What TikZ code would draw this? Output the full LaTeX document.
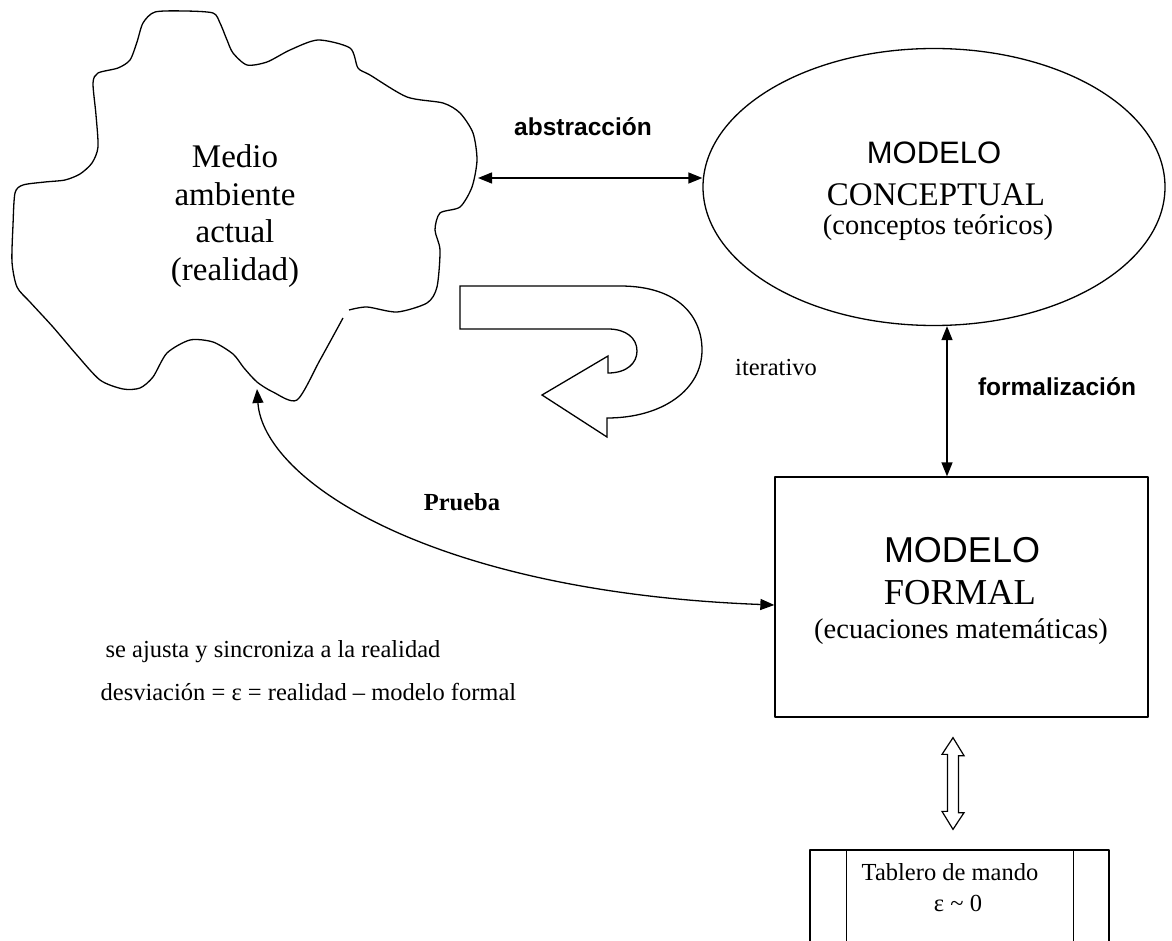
\documentclass[tikz,border=0pt]{standalone}
\usepackage{fontspec}
\setmainfont{Liberation Serif}
\setsansfont{Liberation Sans}
\usetikzlibrary{shapes.geometric,arrows.meta,calc}

\begin{document}
\begin{tikzpicture}[x=1pt,y=-1pt,
  line width=1.3pt, line join=round,
  tipboth/.style={{Triangle[length=14pt,width=11pt]}-{Triangle[length=14pt,width=11pt]}},
  cloudtext/.style={font=\fontsize{33}{37.5}\selectfont, align=center},
  headsans/.style={font=\sffamily\fontsize{31}{36}\selectfont},
  headserif/.style={font=\fontsize{33}{38}\selectfont},
  subserif/.style={font=\fontsize{28.5}{33}\selectfont},
  labelbold/.style={font=\sffamily\bfseries\fontsize{24.5}{28}\selectfont},
  plain/.style={font=\fontsize{24.5}{28}\selectfont},
]
\useasboundingbox (0,0) rectangle (1172,941);
\clip (0,0) rectangle (1172,941);

% the real environment, drawn as an irregular cloud
\draw plot[smooth, tension=0.45] coordinates {
  (343,318) (320,360) (297,400) (273,392) (257,382) (244,368) (233,354)
  (213,342) (190,340) (167,353) (153,377) (140,388) (123,389) (100,380)
  (76,354) (53,327) (30,302) (17,287) (12,262) (13,225) (15,193) (23,185)
  (45,182) (65,180) (80,174) (92,163) (98,147) (96,115) (93,83) (98,73)
  (118,68) (130,60) (137,42) (143,23) (155,12) (185,11) (213,13) (220,23)
  (227,40) (233,53) (247,65) (267,62) (290,50) (318,40) (350,48) (358,68)
  (370,75) (407,97) (443,103) (460,113) (473,133) (477,160) (472,187)
  (460,207) (440,213) (435,230) (440,250) (437,287) (427,303) (397,312)
  (367,307) (349,310)};
\node[cloudtext] (real) at (235,216) {Medio\\ambiente\\actual\\(realidad)};
\coordinate (cloudR) at (478,178);
\coordinate (cloudB) at (257,389);

% conceptual model
\node[draw, ellipse, minimum width=462pt, minimum height=277pt, inner sep=0pt] (concept) at (934,187) {};
\node[headsans] (c1) at (934,153) {MODELO};
\node[headserif] (c2) at (936,195) {CONCEPTUAL};
\node[subserif] (c3) at (938,228) {(conceptos teóricos)};

% formal model
\node[draw, rectangle, minimum width=373pt, minimum height=240pt, inner sep=0pt] (formal) at (961.5,597) {};
\node[font=\sffamily\fontsize{36}{40}\selectfont] (f1) at (962,550) {MODELO};
\node[font=\fontsize{36.5}{40}\selectfont] (f2) at (960,593) {FORMAL};
\node[subserif] (f3) at (961,632) {(ecuaciones matemáticas)};

% control panel (predefined-process box, cut by the page edge)
\node[draw, rectangle, minimum width=299pt, minimum height=110pt, inner sep=0pt] (panel) at (959.5,905) {};
\draw (panel.north west) ++(37,0) -- ++(0,110);
\draw (panel.north east) ++(-36,0) -- ++(0,110);
\node[plain] (p1) at (950,872) {Tablero de mando};
\node[plain] (p2) at (958,903) {ε \textasciitilde\ 0};

% connectors
\draw[tipboth] (cloudR) -- (cloudR -| concept.west);
\node[labelbold] (labs) at (583,127) {abstracción};

\coordinate (vx) at (947,0);
\draw[tipboth] (concept.south -| vx) -- (formal.north -| vx);
\node[labelbold] (lform) at (1057,387) {formalización};

\coordinate (fin) at ($(formal.west)+(0,8)$);
\draw[tipboth] (cloudB) .. controls (263,480) and (430,592) .. (fin);
\node[plain, font=\bfseries\fontsize{24.5}{28}\selectfont] (lprueba) at (462,502) {Prueba};

% hollow double arrow between formal model and panel
\coordinate (dtop) at ($(formal.south)+(-8.5,20)$);
\coordinate (dbot) at ($(panel.north)+(-6.5,-20)$);
\draw[line width=1.2pt, line join=miter]
  (dtop) -- ++(11,18) -- ++(-5.5,0) -- ++(0,57) -- ++(5.5,0)
  -- (dbot) -- ++(-11,-18) -- ++(5.5,0) -- ++(0,-57) -- ++(-5.5,0) -- cycle;

% iteration arrow
\draw[line join=miter] (460,286) -- (620,286)
  .. controls (680,286) and (702,318) .. (702,350)
  .. controls (702,390) and (662,418) .. (607,418)
  -- (607,437) -- (542,395) -- (608,356) -- (608,373)
  .. controls (627,373) and (637,363) .. (637,351)
  .. controls (637,338) and (626,329) .. (608,329)
  -- (460,329) -- cycle;
\node[plain] (liter) at (776,368) {iterativo};

% notes on the left
\node[plain, anchor=west, inner sep=0pt] (n1) at (105,652) {se ajusta y sincroniza a la realidad};
\node[plain, anchor=west, inner sep=0pt] (n2) at (100,692) {desviación = ε = realidad – modelo formal};
\end{tikzpicture}
\end{document}
